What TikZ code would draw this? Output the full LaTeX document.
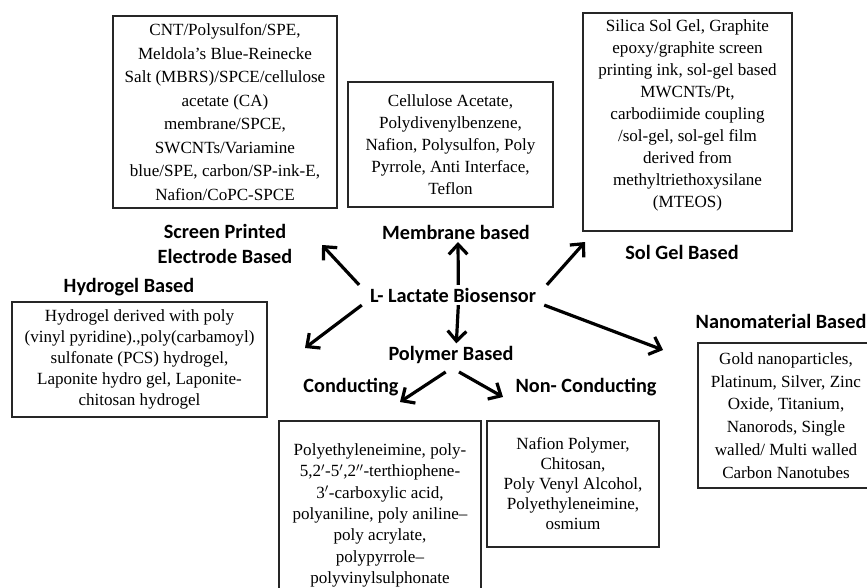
\documentclass[tikz,border=0pt]{standalone}
\usepackage{fontspec}
\setmainfont{Liberation Serif}
\newfontfamily\headfont{Carlito}
\usetikzlibrary{positioning,arrows.meta}
\tikzset{
    % the boxes that list the materials
    matbox/.style={
        draw=black!85,
        line width=0.9pt,
        align=center,
        inner sep=0pt,
        font=\fontsize{12.8}{#1}\selectfont
    },
    matbox/.default=16.5pt,
    % the bold headings
    heading/.style={
        font=\headfont\bfseries\fontsize{15.2}{18.75}\selectfont,
        align=center,
        inner sep=2pt
    },
    % the thick arrows
    branch/.style={
        line width=2.4pt,
        -{Straight Barb[length=7.5pt,width=14pt]}
    }
}

\begin{document}
\begin{tikzpicture}[x=0.75pt,y=-0.75pt]
        \useasboundingbox (0,0) rectangle (867,588);

        % --- 1. Centre and headings ---
        \node[heading] (lac) at (453,295) {L- Lactate Biosensor};
        \node[heading] (spelab) at (225,244) {Screen Printed\\Electrode Based};
        \node[heading] (hydlab) at (129,287) {Hydrogel Based};
        \node[heading] (memlab) at (456,232) {Membrane based};
        \node[heading] (sollab) at (682,252) {Sol Gel Based};
        \node[heading] (nanolab) at (781,321) {Nanomaterial Based};
        \node[heading] (poly) at (451,355) {Polymer Based};
        \node[heading] (condlab) at (351,387) {Conducting};
        \node[heading] (nonlab) at (586,387) {Non- Conducting};

        % --- 2. Material boxes ---
        \node[matbox=17.6pt, minimum width=168pt, minimum height=144pt] (spebox) at (225,112)
            {CNT/Polysulfon/SPE,\\Meldola's Blue-Reinecke\\Salt (MBRS)/SPCE/cellulose\\acetate (CA)\\membrane/SPCE,\\SWCNTs/Variamine\\blue/SPE, carbon/SP-ink-E,\\Nafion/CoPC-SPCE};
        \node[matbox, minimum width=153.75pt, minimum height=93.75pt] (membox) at (450.5,144.5)
            {Cellulose Acetate,\\Polydivenylbenzene,\\Nafion, Polysulfon, Poly\\Pyrrole, Anti Interface,\\Teflon};
        \node[matbox, minimum width=156.75pt, minimum height=163.5pt] (solbox) at (687.5,122)
            {Silica Sol Gel, Graphite\\epoxy/graphite screen\\printing ink, sol-gel based\\MWCNTs/Pt,\\carbodiimide coupling\\/sol-gel, sol-gel film\\derived from\\methyltriethoxysilane\\(MTEOS)\\[-4.5pt]};
        \node[matbox=15.75pt, minimum width=191.25pt, minimum height=86.25pt] (hydbox) at (139.5,359.5)
            {Hydrogel derived with poly\\(vinyl pyridine).,poly(carbamoyl)\\sulfonate (PCS) hydrogel,\\Laponite hydro gel, Laponite-\\chitosan hydrogel};
        \node[matbox=17.1pt, minimum width=132pt, minimum height=108.75pt] (nanobox) at (786,415.5)
            {Gold nanoparticles,\\Platinum, Silver, Zinc\\Oxide, Titanium,\\Nanorods, Single\\walled/ Multi walled\\Carbon Nanotubes};
        \node[matbox=16pt, minimum width=151.5pt, minimum height=141.75pt] (condbox) at (380,515.5)
            {Polyethyleneimine, poly-\\5,2$'$-5$'$,2$''$-terthiophene-\\3$'$-carboxylic acid,\\polyaniline, poly aniline--\\poly acrylate,\\polypyrrole--\\polyvinylsulphonate};
        \node[matbox=15pt, minimum width=129pt, minimum height=94.5pt] (nonbox) at (573,484)
            {Nafion Polymer,\\Chitosan,\\Poly Venyl Alcohol,\\Polyethyleneimine,\\osmium};

        % --- 3. Arrows ---
        \coordinate (tspe) at (322,245);
        \coordinate (tmem) at (458,242);
        \coordinate (tsol) at (585,242);
        \coordinate (thyd) at (305,348);
        \coordinate (tnano) at (663,350);
        \coordinate (tcond) at (400,402);
        \coordinate (tnon) at (503,397);

        \draw[branch] ([xshift=-6pt]lac.north west) -- (tspe);
        \draw[branch] ([xshift=4pt]lac.north) -- (tmem);
        \draw[branch] ([xshift=6pt]lac.north east) -- (tsol);
        \draw[branch] ([xshift=-4pt]lac.south west) -- (thyd);
        \draw[branch] ([xshift=4pt]lac.south) -- ([xshift=4pt]poly.north);
        \draw[branch] ([xshift=4pt]lac.south east) -- (tnano);
        \draw[branch] ([xshift=-4pt,yshift=-4pt]poly.south) -- (tcond);
        \draw[branch] ([xshift=6pt,yshift=-4pt]poly.south) -- (tnon);
    \end{tikzpicture}
\end{document}
